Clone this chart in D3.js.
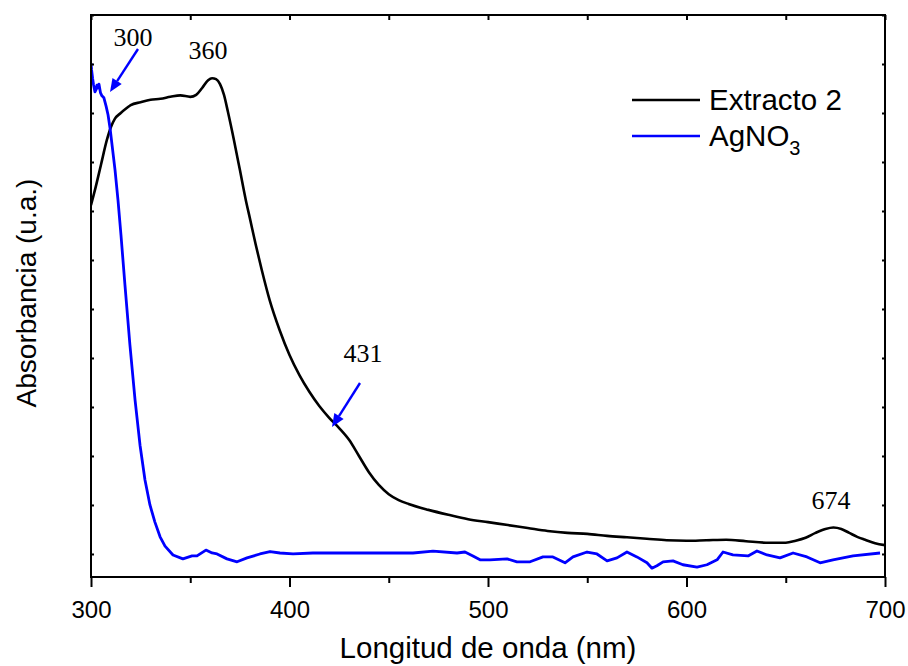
<!DOCTYPE html>
<html><head><meta charset="utf-8">
<script src="https://cdn.jsdelivr.net/npm/d3@7"></script>
<style>body{margin:0;background:#fff}svg{display:block}</style>
</head><body>
<script>
// ---------- data ----------
const extractoNm = [300,302,305,308,310,312,315,318,320,325,330,335,340,345,350,353,356,359,361,363,365,367,369,372,375,378,380,383,386,390,395,400,405,410,415,420,425,430,435,440,445,450,455,460,470,480,490,500,510,520,530,540,550,560,570,580,590,600,610,620,630,640,650,655,660,665,670,674,678,682,686,690,695,700];
const extractoAbs = [0.712,0.743,0.794,0.845,0.871,0.888,0.900,0.910,0.916,0.922,0.927,0.929,0.933,0.936,0.933,0.937,0.951,0.967,0.971,0.969,0.959,0.937,0.902,0.845,0.784,0.722,0.686,0.631,0.580,0.518,0.457,0.406,0.365,0.331,0.302,0.278,0.257,0.233,0.200,0.167,0.141,0.122,0.110,0.102,0.090,0.080,0.071,0.065,0.059,0.053,0.047,0.043,0.041,0.037,0.034,0.031,0.028,0.027,0.028,0.029,0.026,0.023,0.023,0.027,0.033,0.043,0.051,0.054,0.051,0.043,0.035,0.029,0.022,0.018];

const agno3Nm = [300,300.3,300.8,301.3,302,302.5,303,303.5,304,304.8,305.5,306.5,307.6,308.6,309.6,310.6,312.1,313.6,315.1,317.1,319.6,322.2,324.7,327.2,329.7,332.2,334.8,337.3,341.3,346.3,350.9,353.4,357.9,361,363.5,368.5,373.6,378.6,385.1,390.2,395.2,401.8,411.8,435.5,462.2,472.3,484.4,488.4,492.4,496,501,509.6,514.6,521.2,527.7,532.7,538.8,542.8,549.9,554.9,560,565,570,575,580.1,582.6,585.1,588.2,593.2,598.2,605.3,610.3,615.4,618.4,623.4,631,635.5,640.6,647.1,653.7,660.7,667.3,673.8,683.9,697.5];
const agno3Abs = [1.002,0.988,0.971,0.957,0.943,0.947,0.957,0.951,0.959,0.941,0.935,0.931,0.914,0.896,0.869,0.835,0.784,0.722,0.651,0.549,0.427,0.314,0.222,0.151,0.100,0.065,0.035,0.016,-0.002,-0.010,-0.004,-0.004,0.008,0.002,0,-0.010,-0.016,-0.008,0,0.005,0.002,0,0.002,0.002,0.002,0.006,0.002,0.004,-0.004,-0.012,-0.012,-0.010,-0.016,-0.016,-0.006,-0.006,-0.018,-0.006,0.004,0,-0.014,-0.008,0.004,-0.006,-0.018,-0.029,-0.024,-0.016,-0.014,-0.022,-0.027,-0.022,-0.012,0.004,-0.002,-0.004,0.006,-0.002,-0.008,0.002,-0.006,-0.018,-0.012,-0.004,0.002];

const xTicks = [300,400,500,600,700];
const xMinorTicks = [350,450,550,650];
const yTicks = [0,0.1,0.2,0.3,0.4,0.5,0.6,0.7,0.8,0.9,1.0,1.1];

const peakLabels = ["300","360","431","674"];

// ---------- layout ----------
const W = 908, H = 666;
const svg = d3.select("body").append("svg").attr("width", W).attr("height", H);
const x = d3.scaleLinear().domain([300,700]).range([91,885]);
const y = d3.scaleLinear().domain([-0.047,1.1]).range([577,15]);
const sans = "Arial, 'Liberation Sans', sans-serif";
const serif = "'Times New Roman', 'Liberation Serif', serif";

// lines
svg.append("clipPath").attr("id","c").append("rect")
  .attr("x",91).attr("y",15).attr("width",794).attr("height",562);
const g = svg.append("g").attr("clip-path","url(#c)");
g.append("path").datum(d3.zip(extractoNm, extractoAbs))
  .attr("d", d3.line().x(d=>x(d[0])).y(d=>y(d[1])).curve(d3.curveMonotoneX))
  .attr("fill","none").attr("stroke","#000").attr("stroke-width",2.6).attr("stroke-linejoin","round");
g.append("path").datum(d3.zip(agno3Nm, agno3Abs))
  .attr("d", d3.line().x(d=>x(d[0])).y(d=>y(d[1])).curve(d3.curveLinear))
  .attr("fill","none").attr("stroke","#0000ff").attr("stroke-width",2.8).attr("stroke-linejoin","round");

// axes
const axBottom = svg.append("g").attr("transform","translate(0,577)")
  .call(d3.axisBottom(x).tickValues(xTicks).tickSize(10).tickFormat(d3.format("d")));
const axBottomMinor = svg.append("g").attr("transform","translate(0,577)")
  .call(d3.axisBottom(x).tickValues(xMinorTicks).tickSize(6).tickFormat(""));
const axTop = svg.append("g").attr("transform","translate(0,15)")
  .call(d3.axisBottom(x).tickValues(xTicks.concat(xMinorTicks)).tickSize(5).tickFormat(""));
const axLeft = svg.append("g").attr("transform","translate(91,0)")
  .call(d3.axisRight(y).tickValues(yTicks).tickSize(3).tickFormat(""));
const axRight = svg.append("g").attr("transform","translate(885,0)")
  .call(d3.axisLeft(y).tickValues(yTicks).tickSize(3).tickFormat(""));
[axBottom,axBottomMinor,axTop,axLeft,axRight].forEach(a=>{
  a.select(".domain").remove();
  a.selectAll(".tick line").attr("stroke","#000").attr("stroke-width",2);
});
axBottom.selectAll(".tick text").attr("font-family",sans).attr("font-size",24).attr("fill","#000").attr("dy","1.15em");
// frame
svg.append("rect").attr("x",91).attr("y",15).attr("width",794).attr("height",562)
  .attr("fill","none").attr("stroke","#000").attr("stroke-width",2);

// axis titles
svg.append("text").attr("x",(x(300)+x(700))/2).attr("y",658).attr("text-anchor","middle")
  .attr("font-family",sans).attr("font-size",29.5).text("Longitud de onda (nm)");
svg.append("text").attr("transform","translate(36,293) rotate(-90)").attr("text-anchor","middle")
  .attr("font-family",sans).attr("font-size",28).text("Absorbancia (u.a.)");

// legend
const legendItems = [{label:"Extracto 2",color:"#000",sub:null},{label:"AgNO",color:"#0000ff",sub:"3"}];
legendItems.forEach((d,i)=>{
  const yy = 100 + i*36;
  svg.append("line").attr("x1",632).attr("x2",700).attr("y1",yy).attr("y2",yy)
    .attr("stroke",d.color).attr("stroke-width",2.6);
  const t = svg.append("text").attr("x",709).attr("y",yy+10).attr("font-family",sans).attr("font-size",29.5).text(d.label);
  if (d.sub) t.append("tspan").attr("font-size",20).attr("dy",9).text(d.sub);
});

// peak annotations
const labelPos = [[133,46],[208,59],[363,362],[831,509]];
peakLabels.forEach((s,i)=>{
  svg.append("text").attr("x",labelPos[i][0]).attr("y",labelPos[i][1]).attr("text-anchor","middle")
    .attr("font-family",serif).attr("font-size",26).text(s);
});
function arrow(x1,y1,x2,y2){
  const ang = Math.atan2(y2-y1,x2-x1), L=13, Wd=5.5;
  const bx = x2 - L*Math.cos(ang), by = y2 - L*Math.sin(ang);
  svg.append("line").attr("x1",x1).attr("y1",y1).attr("x2",bx).attr("y2",by)
    .attr("stroke","#0000ff").attr("stroke-width",2.4);
  const px = -Math.sin(ang)*Wd, py = Math.cos(ang)*Wd;
  svg.append("path").attr("d",`M${x2},${y2}L${bx+px},${by+py}L${bx-px},${by-py}Z`).attr("fill","#0000ff");
}
arrow(138,49,110,92);
arrow(360,383,332,427);
</script>
</body></html>
